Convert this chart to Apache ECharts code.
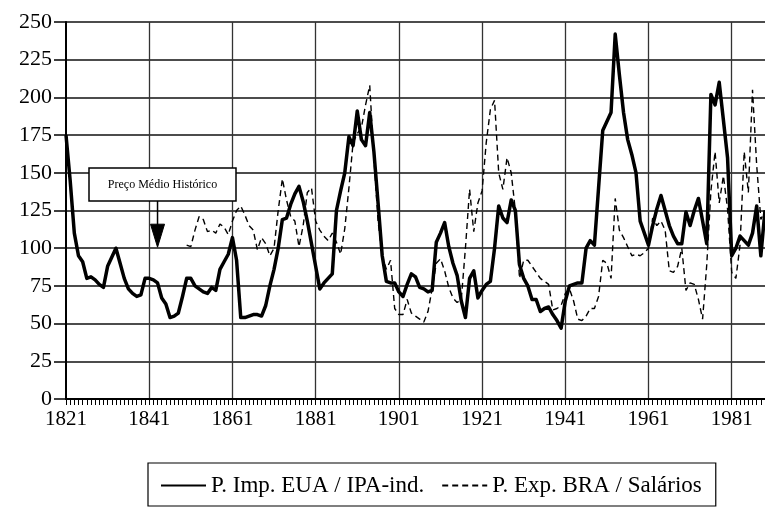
<!DOCTYPE html>
<html>
<head>
<meta charset="utf-8">
<script src="https://cdn.jsdelivr.net/npm/echarts@6/dist/echarts.min.js"></script>
<style>
html,body{margin:0;padding:0;background:#fff;}
#chart{width:765px;height:508px;}
</style>
</head>
<body>
<div id="chart"></div>
<script>
// Years 1821..1989
var firstYear = 1821;
var lastYear = 1989;
var yTicks = [0, 25, 50, 75, 100, 125, 150, 175, 200, 225, 250];
var seriesNames = ['P. Imp. EUA / IPA-ind.', 'P. Exp. BRA / Salários'];
var annotationText = 'Preço Médio Histórico';
var annotationYear = 1843;
var annotationValue = 100;

// P. Imp. EUA / IPA-ind. (solid), 1821..1989
var impEUA = [
  175,145,110,95,91,80,81,79,76,74,          // 1821-1830
  88,94,100,90,80,73,70,68,69,80,            // 1831-1840
  80,79,77,67,63,54,55,57,68,80,             // 1841-1850
  80,75,73,71,70,74,72,86,91,96,             // 1851-1860
  107,92,54,54,55,56,56,55,62,75,            // 1861-1870
  86,100,119,120,129,136,141,131,118,103,    // 1871-1880
  88,73,77,80,83,125,138,150,174,168,        // 1881-1890
  191,172,168,190,164,130,95,78,77,77,       // 1891-1900
  71,68,76,83,81,74,73,71,72,104,            // 1901-1910
  110,117,101,90,82,65,54,80,85,67,          // 1911-1920
  72,76,78,100,128,120,117,132,125,89,       // 1921-1930
  80,75,66,66,58,60,61,56,52,47,             // 1931-1940
  65,75,76,77,77,100,105,102,140,178,        // 1941-1950
  184,190,242,215,190,172,162,150,118,110,   // 1951-1960
  102,115,126,135,125,115,108,103,103,124,   // 1961-1970
  115,125,133,118,103,202,195,210,185,160,   // 1971-1980
  95,100,108,105,102,110,128,95,125          // 1981-1989
];

// P. Exp. BRA / Salários (dashed), 1821..1989 (no data before 1850)
var expBRA = [
  null,null,null,null,null,null,null,null,null,null,   // 1821-1830
  null,null,null,null,null,null,null,null,null,null,   // 1831-1840
  null,null,null,null,null,null,null,null,null,102,    // 1841-1850
  101,112,121,119,111,112,110,116,114,109,             // 1851-1860
  118,125,128,122,115,112,99,107,103,95,               // 1861-1870
  100,125,146,132,121,118,101,115,137,140,             // 1871-1880
  118,112,108,105,110,104,96,113,140,170,              // 1881-1890
  176,180,195,208,160,118,95,86,92,60,                 // 1891-1900
  56,56,66,57,55,53,51,58,73,90,                       // 1901-1910
  93,85,74,67,64,66,100,139,111,130,                   // 1911-1920
  138,170,192,198,150,139,160,150,125,80,              // 1921-1930
  92,92,88,84,80,78,76,59,60,62,                       // 1931-1940
  70,73,65,53,52,55,60,60,68,92,                       // 1941-1950
  90,80,133,112,107,101,95,96,95,97,                   // 1951-1960
  100,120,115,118,112,85,84,88,100,72,                 // 1961-1970
  77,76,66,53,89,138,164,130,148,126,                  // 1971-1980
  84,80,102,164,137,205,155,119,125                    // 1981-1989
];

var years = [];
for (var y = firstYear; y <= lastYear; y++) years.push(String(y));

var serif = '"Liberation Serif", "DejaVu Serif", serif';
var chart = echarts.init(document.getElementById('chart'), null, {renderer: 'canvas'});

var option = {
  backgroundColor: '#fff',
  animation: false,
  grid: {left: 66, right: 0, top: 22, bottom: 109, containLabel: false},
  legend: {
    left: 148, top: 463,
    orient: 'horizontal',
    borderColor: '#000', borderWidth: 1.2,
    padding: [11, 14, 9, 12],
    itemGap: 17,
    itemWidth: 45, itemHeight: 14,
    textStyle: {fontFamily: serif, fontSize: 23, color: '#000'},
    itemStyle: {opacity: 0},
    lineStyle: {width: 2},
    data: seriesNames
  },
  xAxis: {
    type: 'category',
    data: years,
    boundaryGap: false,
    axisLine: {lineStyle: {color: '#000', width: 2}},
    axisTick: {show: true, interval: 0, length: 6, lineStyle: {color: '#000', width: 1}},
    axisLabel: {
      interval: function (idx) { return idx % 20 === 0; },
      fontFamily: serif, fontSize: 21, color: '#000', margin: 10
    },
    splitLine: {
      show: true,
      interval: function (idx) { return idx % 20 === 0 && idx > 0; },
      lineStyle: {color: '#333', width: 1.3}
    }
  },
  yAxis: {
    type: 'value',
    min: yTicks[0], max: yTicks[yTicks.length - 1], interval: 25,
    axisLine: {show: true, lineStyle: {color: '#000', width: 2}},
    axisTick: {show: true, length: 12, lineStyle: {color: '#000', width: 1.5}},
    axisLabel: {fontFamily: serif, fontSize: 22, color: '#000', margin: 14},
    splitLine: {show: true, lineStyle: {color: '#111', width: 1.6}}
  },
  series: [
    {
      name: seriesNames[0], type: 'line', data: impEUA,
      symbol: 'none', smooth: false, connectNulls: false,
      lineStyle: {color: '#000', width: 3.5, join: 'round'},
      itemStyle: {color: '#000'}, z: 3
    },
    {
      name: seriesNames[1], type: 'line', data: expBRA,
      symbol: 'none', smooth: false, connectNulls: false,
      lineStyle: {color: '#000', width: 1.4, type: [6, 4]},
      itemStyle: {color: '#000'}, z: 2
    }
  ]
};
chart.setOption(option);

// Annotation: box with arrow pointing at the historical average line
var target = chart.convertToPixel({gridIndex: 0}, [String(annotationYear), annotationValue]);
var ax = target[0], ay = target[1];
var boxW = 147, boxH = 33, boxX = 89, boxY = 168;
chart.setOption({
  graphic: [
    {type: 'rect', shape: {x: boxX, y: boxY, width: boxW, height: boxH},
     style: {fill: '#fff', stroke: '#000', lineWidth: 1.5}, z: 10},
    {type: 'text', x: boxX + boxW / 2, y: boxY + boxH / 2,
     style: {text: annotationText, fontFamily: serif, fontSize: 12, fill: '#000',
             align: 'center', verticalAlign: 'middle'}, z: 11},
    {type: 'line', shape: {x1: ax, y1: boxY + boxH, x2: ax, y2: ay - 22},
     style: {stroke: '#000', lineWidth: 1.5}, z: 10},
    {type: 'polygon', shape: {points: [[ax - 7, ay - 24], [ax + 7, ay - 24], [ax, ay - 1]]},
     style: {fill: '#000', stroke: '#000', lineWidth: 1}, z: 10}
  ]
});
</script>
</body>
</html>
